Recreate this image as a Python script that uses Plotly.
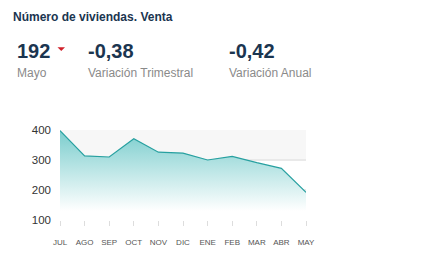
import plotly.graph_objects as go

months = ["JUL", "AGO", "SEP", "OCT", "NOV", "DIC", "ENE", "FEB", "MAR", "ABR", "MAY"]
values = [398, 314, 310, 371, 326, 323, 300, 312, 291, 272, 192]
y_ticks = [100, 200, 300, 400]

title = "Número de viviendas. Venta"
kpi_values = ["192", "-0,38", "-0,42"]
kpi_labels = ["Mayo", "Variación Trimestral", "Variación Anual"]

FONT = "Liberation Sans, Arial, sans-serif"
NAVY = "#1b3550"

# pixel -> paper helpers (plot area: x 60..306, y 130..220)
def px(x):
    return (x - 60) / 246

def py(y):
    return (220 - y) / 90

fig = go.Figure()
fig.add_trace(go.Scatter(
    x=list(range(len(months))), y=values, mode="lines",
    line=dict(color="#27a0a0", width=1.2),
    fill="tozeroy",
    fillgradient=dict(type="vertical", start=130, stop=400,
                      colorscale=[[0, "rgba(255,255,255,1)"], [1, "rgba(122,205,205,1)"]]),
    hoverinfo="skip", showlegend=False,
))

fig.add_shape(type="rect", xref="x", yref="y", x0=0, x1=len(months) - 1, y0=300, y1=400,
              fillcolor="#f7f7f7", line_width=0, layer="below")

fig.update_layout(
    width=437, height=264,
    margin=dict(l=60, r=131, t=130, b=44),
    paper_bgcolor="white", plot_bgcolor="white",
    font=dict(family=FONT),
    xaxis=dict(range=[0, len(months) - 1], tickmode="array",
               tickvals=list(range(len(months))), ticktext=months,
               showgrid=False, zeroline=False,
               ticks="outside", ticklen=5, tickcolor="#dddddd", tickwidth=1,
               tickfont=dict(size=8, color="#555555"), ticklabelstandoff=9,
               fixedrange=True),
    yaxis=dict(range=[100, 400], tickmode="array", tickvals=y_ticks,
               showgrid=True, gridcolor="#e9e9e9", gridwidth=1.5, zeroline=False,
               tickfont=dict(size=11.5, color="#333333"), ticklabelstandoff=8,
               fixedrange=True),
)
fig.add_shape(type="line", xref="x", yref="y", x0=0, x1=len(months) - 1, y0=100, y1=100,
              line=dict(color="#e6e6e6", width=2), layer="below")

fig.add_annotation(text="<b>" + title + "</b>", xref="paper", yref="paper",
                   x=px(11), y=py(17), xanchor="left", yanchor="middle",
                   showarrow=False, font=dict(size=12, color=NAVY))

kpi_x = [15, 86, 227]
for i in range(3):
    fig.add_annotation(text="<b>" + kpi_values[i] + "</b>", xref="paper", yref="paper",
                       x=px(kpi_x[i]), y=py(51), xanchor="left", yanchor="middle",
                       showarrow=False, font=dict(size=20, color=NAVY))
    fig.add_annotation(text=kpi_labels[i], xref="paper", yref="paper",
                       x=px(kpi_x[i]), y=py(73), xanchor="left", yanchor="middle",
                       showarrow=False, font=dict(size=12, color="#8a8a8a"))

# red down-triangle indicator
fig.add_shape(type="path", xref="paper", yref="paper",
              path=f"M {px(57.5)} {py(47.3)} L {px(65)} {py(47.3)} L {px(61.25)} {py(51)} Z",
              fillcolor="#d0202a", line_width=0)

fig.write_html("out.html")
